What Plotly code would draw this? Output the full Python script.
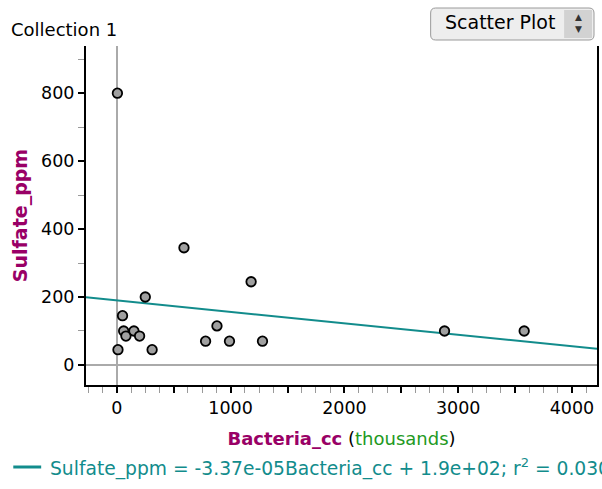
import plotly.graph_objects as go

# Data (Bacteria_cc in thousands, Sulfate_ppm)
bacteria_cc = [5, 10, 50, 60, 80, 150, 200, 250, 310, 590, 780, 880, 990, 1180, 1280, 2880, 3580]
sulfate_ppm = [800, 45, 145, 100, 85, 100, 85, 200, 45, 345, 70, 115, 70, 245, 70, 100, 100]

# Least-squares line shown in the reference (slope per raw count, intercept)
fit_slope_raw = -3.37e-05
fit_intercept = 190.0
x_range = [-271, 4220]
y_range = [-59, 939]

x_major = [0, 500, 1000, 1500, 2000, 2500, 3000, 3500, 4000]
x_labels = ["0", "", "1000", "", "2000", "", "3000", "", "4000"]
y_major = [0, 200, 400, 600, 800]
y_minor = [100, 300, 500, 700, 900]

slope_thousands = fit_slope_raw * 1000
line_x = x_range
line_y = [fit_intercept + slope_thousands * v for v in line_x]

FONT = "DejaVu Sans, Liberation Sans, Arial, sans-serif"
TEAL = "#128c8c"
PURPLE = "#990066"

fig = go.Figure()
fig.add_trace(go.Scatter(x=line_x, y=line_y, mode="lines",
                         line=dict(color=TEAL, width=2), hoverinfo="skip"))
fig.add_trace(go.Scatter(x=bacteria_cc, y=sulfate_ppm, mode="markers",
                         marker=dict(size=9.5, color="#a0a0a0",
                                     line=dict(color="black", width=1.8))))

W, H = 602, 489
ML, MR, MT, MB = 86, 3, 46, 104
fig.update_layout(
    width=W, height=H,
    margin=dict(l=ML, r=MR, t=MT, b=MB),
    paper_bgcolor="white", plot_bgcolor="white",
    showlegend=False,
    font=dict(family=FONT, size=17, color="black"),
)

fig.update_xaxes(
    range=x_range,
    tickvals=x_major, ticktext=x_labels,
    ticks="outside", ticklen=6, tickwidth=1.5, tickcolor="black",
    minor=dict(dtick=125, tick0=0, ticks="outside", ticklen=6,
               tickwidth=1, tickcolor="#9a9a9a"),
    showline=True, linecolor="black", linewidth=2,
    zeroline=True, zerolinecolor="#aaaaaa", zerolinewidth=1.5,
    showgrid=False,
    tickfont=dict(size=17.5),
    title=dict(text=f"<b><span style='color:{PURPLE}'>Bacteria_cc</span></b> (<span style='color:#229922'>thousands</span>)",
               font=dict(size=18), standoff=15),
)

fig.update_yaxes(
    range=y_range,
    tickvals=y_major,
    ticks="outside", ticklen=6, tickwidth=1.5, tickcolor="black",
    minor=dict(tickvals=y_minor, ticks="outside", ticklen=6,
               tickwidth=1, tickcolor="#9a9a9a"),
    showline=True, linecolor="black", linewidth=2, mirror=True,
    zeroline=True, zerolinecolor="#aaaaaa", zerolinewidth=1.5,
    showgrid=False,
    tickfont=dict(size=17.5),
    title=dict(text="<b>Sulfate_ppm</b>", font=dict(size=19, color=PURPLE), standoff=8),
)

pw, ph = W - ML - MR, H - MT - MB
def px(x): return (x - ML) / pw
def py(y): return (H - MB - y) / ph

# Header text
fig.add_annotation(text="Collection 1", x=px(9), y=py(29), xref="paper", yref="paper",
                   showarrow=False, xanchor="left", yanchor="middle",
                   font=dict(size=18, color="black"))

# Scatter Plot button
bx0, bx1, by0, by1 = 432, 596, 8, 40
fig.add_shape(type="path", xref="paper", yref="paper",
              path=(f"M {px(bx0+5)},{py(by0)} L {px(bx1-5)},{py(by0)} Q {px(bx1)},{py(by0)} {px(bx1)},{py(by0+5)} "
                    f"L {px(bx1)},{py(by1-5)} Q {px(bx1)},{py(by1)} {px(bx1-5)},{py(by1)} "
                    f"L {px(bx0+5)},{py(by1)} Q {px(bx0)},{py(by1)} {px(bx0)},{py(by1-5)} "
                    f"L {px(bx0)},{py(by0+5)} Q {px(bx0)},{py(by0)} {px(bx0+5)},{py(by0)} Z"),
              line=dict(color="#9a9a9a", width=1), fillcolor="#eeeeee", layer="above")
fig.add_shape(type="rect", xref="paper", yref="paper",
              x0=px(566), x1=px(bx1 - 2), y0=py(by1 - 2), y1=py(by0 + 2),
              line=dict(width=0), fillcolor="#d2d2d2", layer="above")
fig.add_annotation(text="Scatter Plot", x=px(444), y=py(22), xref="paper", yref="paper",
                   showarrow=False, xanchor="left", yanchor="middle",
                   font=dict(size=19, color="black"))
fig.add_annotation(text="▲", x=px(580), y=py(17), xref="paper", yref="paper",
                   showarrow=False, xanchor="center", yanchor="middle",
                   font=dict(size=9, color="#333"))
fig.add_annotation(text="▼", x=px(580), y=py(29), xref="paper", yref="paper",
                   showarrow=False, xanchor="center", yanchor="middle",
                   font=dict(size=9, color="#333"))

# Legend line + equation
fig.add_shape(type="line", xref="paper", yref="paper",
              x0=px(13), x1=px(41), y0=py(467), y1=py(467),
              line=dict(color=TEAL, width=3))
fig.add_annotation(text="Sulfate_ppm = -3.37e-05Bacteria_cc + 1.9e+02; r<sup>2</sup> = 0.030",
                   x=px(48), y=py(467), xref="paper", yref="paper",
                   showarrow=False, xanchor="left", yanchor="middle",
                   font=dict(size=18.7, color=TEAL))

fig.write_html("out.html")
